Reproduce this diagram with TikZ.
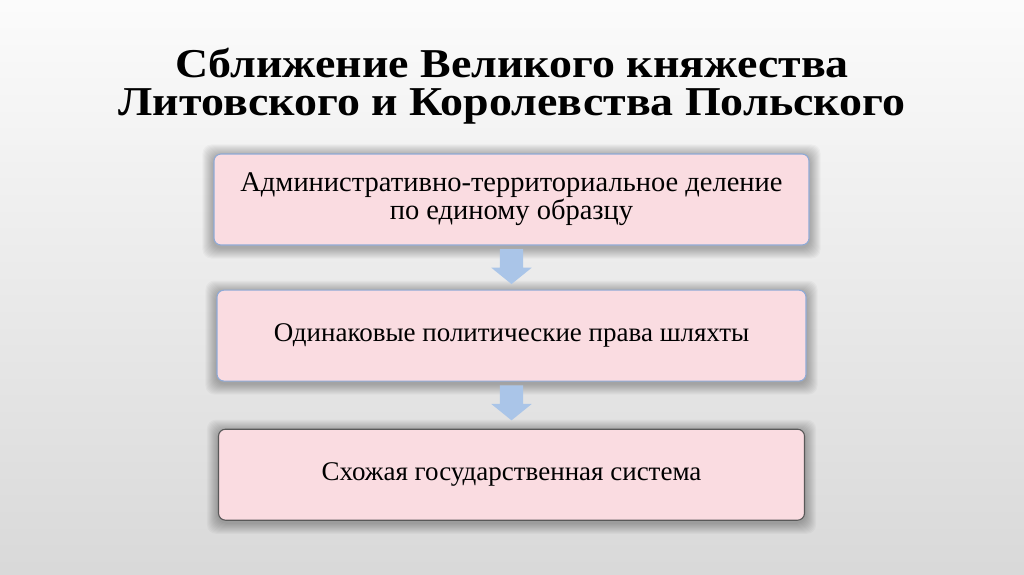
\documentclass[tikz,border=0pt]{standalone}
\usepackage{fontspec}
\setmainfont{Liberation Serif}
\newfontfamily\titlefont[FakeStretch=1.12]{Liberation Serif}
\usetikzlibrary{positioning,calc,shapes.arrows,backgrounds}
\definecolor{boxfill}{HTML}{FADCE1}
\definecolor{boxline}{HTML}{8FAAD6}
\definecolor{arrowfill}{HTML}{AAC5E8}
\tikzset{
  stagebox/.style={draw=boxline,line width=1.1pt,fill=boxfill,rounded corners=7pt,
    minimum width=595pt,minimum height=91pt,align=center,
    font=\fontsize{27}{30}\selectfont},
  glow/.style={fill=black,opacity=0.028,rounded corners=9pt},
  downarrow/.style={single arrow,fill=arrowfill,draw=none,rotate=-90,
    minimum height=35pt,inner xsep=0pt,inner ysep=11.5pt,
    single arrow head extend=8.5pt,single arrow tip angle=102}
}
\begin{document}
\begin{tikzpicture}[x=1pt,y=-1pt]
\useasboundingbox (0,0) rectangle (1024,574);
			% title
			\node[align=center,font=\titlefont\fontsize{41}{38}\selectfont\bfseries] (title) at (512,86)
			{Сближение Великого княжества\\Литовского и Королевства Польского};
			% stages
			\node[stagebox,font=\fontsize{28.5}{28}\selectfont] (admin) at (511.5,199.5) {Административно-территориальное деление\\по единому образцу};
			\node[stagebox,minimum width=589pt,below=44pt of admin] (rights) {Одинаковые политические права шляхты};
			\node[stagebox,draw=black!65,minimum width=586pt,below=47pt of rights] (state) {Схожая государственная система};
			% arrows
			\node[downarrow] (a1) at ($(admin.south)!0.37!(rights.north)$) {};
			\node[downarrow] (a2) at ($(rights.south)!0.35!(state.north)$) {};
			% background and shadows
			\begin{scope}[on background layer]
			\shade[top color=white!97!gray,bottom color=black!15] (0,0) rectangle (1024,574);
			\foreach \b in {admin,rights,state}
			  \foreach \i in {1,...,11}
			    \fill[glow] ($(\b.north west)+(-\i,-\i+2)$) rectangle ($(\b.south east)+(\i,\i+2)$);
			\end{scope}
\end{tikzpicture}
\end{document}
